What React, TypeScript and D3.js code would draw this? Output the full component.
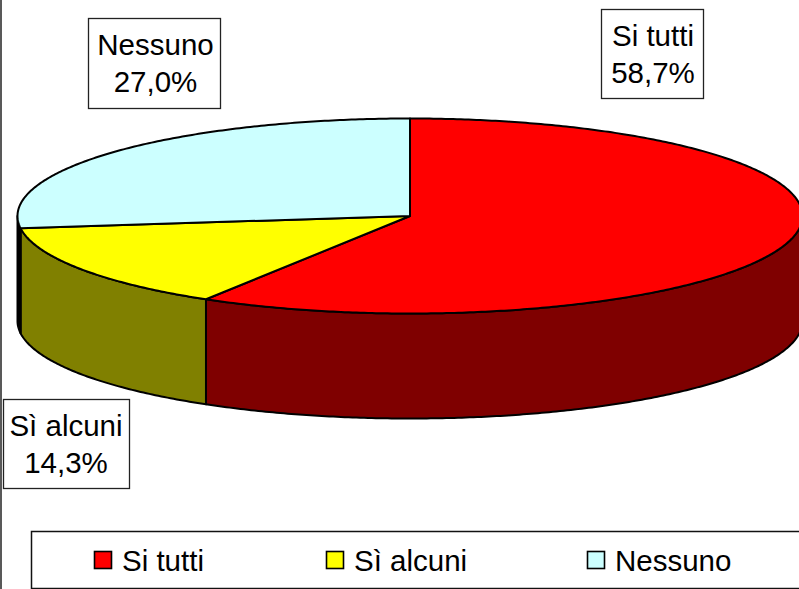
import React from "react";
import * as d3 from "d3";

const categories = ["Si tutti", "Sì alcuni", "Nessuno"];
const values = [58.7, 14.3, 27.0];
const valueLabels = ["58,7%", "14,3%", "27,0%"];
const topColors = ["#ff0000", "#ffff00", "#ccffff"];
const sideColors = ["#7f0000", "#808000", "#000000"];

const W = 799, H = 589;
const cx = 410, cy = 216, rx = 392.5, ry = 97.5, depth = 105;
const FONT = "'Liberation Sans', Arial, sans-serif";
const FS = 29.5;

const px = (a: number) => cx + rx * Math.sin(a);
const py = (a: number, dy = 0) => cy - ry * Math.cos(a) + dy;
const lineGen = d3.line<[number, number]>().x((d) => d[0]).y((d) => d[1]);

const arcPts = (a0: number, a1: number, dy = 0): [number, number][] => {
  const n = Math.max(2, Math.ceil(Math.abs(a1 - a0) / 0.01));
  return d3.range(n + 1).map((i) => {
    const a = a0 + ((a1 - a0) * i) / n;
    return [px(a), py(a, dy)] as [number, number];
  });
};

const pie = d3.pie<number>().sort(null).startAngle(0).endAngle(2 * Math.PI);
const slices = pie(values);

const labelBoxes = [
  { i: 0, x: 601, y: 9, w: 102, h: 89, tx: 653 },
  { i: 1, x: 3, y: 399, w: 126, h: 89, tx: 66 },
  { i: 2, x: 88, y: 18, w: 132, h: 90, tx: 155.5 },
];
const legendItems = [
  { i: 0, x: 94 },
  { i: 1, x: 326 },
  { i: 2, x: 587 },
];

export default function App() {
  const lo = Math.PI / 2, hi = (3 * Math.PI) / 2;
  return (
    <svg width={W} height={H} style={{ position: "absolute", left: 0, top: 0, background: "#fff" }}>
      <line x1={1} x2={1} y1={0} y2={H} stroke="#222" strokeWidth={1.5} />
      {slices.map((s, i) => {
        const a0 = Math.max(s.startAngle, lo), a1 = Math.min(s.endAngle, hi);
        if (a1 <= a0) return null;
        const pts = [...arcPts(a0, a1, 0), ...arcPts(a1, a0, depth)];
        return <path key={i} d={lineGen(pts) + "Z"} fill={sideColors[i]} stroke="#000" strokeWidth={2} strokeLinejoin="round" />;
      })}
      {slices.map((s, i) => {
        const pts: [number, number][] = [[cx, cy], ...arcPts(s.startAngle, s.endAngle)];
        return <path key={i} d={lineGen(pts) + "Z"} fill={topColors[i]} stroke="#000" strokeWidth={2} strokeLinejoin="round" />;
      })}
      {labelBoxes.map((b) => (
        <g key={b.i} fontFamily={FONT} fontSize={FS} fill="#000" textAnchor="middle">
          <rect x={b.x + 0.5} y={b.y + 0.5} width={b.w} height={b.h} fill="#fff" stroke="#222" strokeWidth={1.3} />
          <text x={b.tx} y={b.y + 37}>{categories[b.i]}</text>
          <text x={b.tx} y={b.y + 74}>{valueLabels[b.i]}</text>
        </g>
      ))}
      <rect x={31.5} y={531.5} width={780} height={57} fill="#fff" stroke="#111" strokeWidth={1.5} />
      {legendItems.map((l) => (
        <g key={l.i}>
          <rect x={l.x + 0.5} y={551.5} width={17} height={17} fill={topColors[l.i]} stroke="#000" strokeWidth={1.6} />
          <text x={l.x + 28} y={571} fontFamily={FONT} fontSize={FS} fill="#000">{categories[l.i]}</text>
        </g>
      ))}
    </svg>
  );
}
